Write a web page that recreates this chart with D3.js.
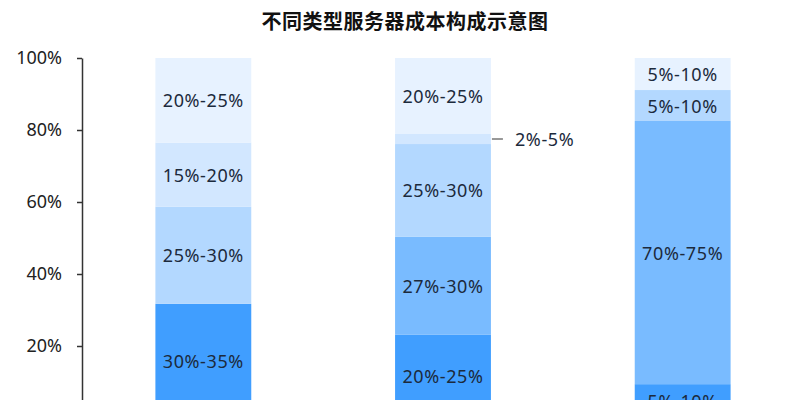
<!DOCTYPE html>
<html>
<head>
<meta charset="utf-8">
<script src="https://cdn.jsdelivr.net/npm/d3@7"></script>
<style>
  html, body { margin: 0; padding: 0; background: #fff; overflow: hidden; }
</style>
</head>
<body>
<div id="chart"></div>
<script>
// three server types (percent of cost, bottom to top)
const bars = ['type1', 'type2', 'type3'];
const layerKeys = ['s1', 's2', 's3', 's4', 's5'];
const s1 = [31.7, 23.1, 9.4];
const s2 = [0, 27.3, 73.1];
const s3 = [27.0, 25.7, 8.6];
const s4 = [17.8, 2.8, 0];
const s5 = [23.5, 21.1, 8.9];

const s1Labels = ['30%-35%', '20%-25%', '5%-10%'];
const s2Labels = [null, '27%-30%', '70%-75%'];
const s3Labels = ['25%-30%', '25%-30%', '5%-10%'];
const s4Labels = ['15%-20%', '2%-5%', null];
const s5Labels = ['20%-25%', '20%-25%', '5%-10%'];

const yTicks = [0, 20, 40, 60, 80, 100];
const title = '不同类型服务器成本构成示意图';

const colors = ['#409eff', '#79bbff', '#b3d8ff', '#d2e7ff', '#e7f2ff'];
const labelSets = [s1Labels, s2Labels, s3Labels, s4Labels, s5Labels];
const series = [s1, s2, s3, s4, s5];

const width = 809, height = 460;
const margin = { top: 58, right: 8, bottom: 42, left: 82 };
const plotH = height - margin.top - margin.bottom;

const rows = bars.map((b, i) => {
    const r = { bar: b };
    layerKeys.forEach((k, j) => { r[k] = series[j][i]; });
    return r;
});
const stacked = d3.stack().keys(layerKeys)(rows);

const svg = d3.select('#chart')
    .append('svg')
    .attr('width', width)
    .attr('height', height)
    .style('display', 'block');

svg.append('text')
    .attr('x', 405)
    .attr('y', 20)
    .attr('text-anchor', 'middle')
    .attr('dominant-baseline', 'central')
    .style('font-family', '"Noto Sans CJK SC", sans-serif')
    .style('font-weight', 'bold')
    .style('font-size', '20px')
    .style('letter-spacing', '0.5px')
    .style('fill', '#111')
    .text(title);

const g = svg.append('g')
    .attr('transform', 'translate(' + margin.left + ',' + margin.top + ')');

const x = d3.scaleBand()
    .domain(bars)
    .range([1.5, width - margin.left - margin.right + 1.5])
    .paddingInner(0.6)
    .paddingOuter(0.3);

const y = d3.scaleLinear()
    .domain([0, 100])
    .range([plotH, 0]);

// bars
const layer = g.selectAll('.layer')
    .data(stacked)
    .join('g')
    .attr('class', 'layer')
    .attr('fill', (d, i) => colors[i]);

layer.selectAll('rect')
    .data(d => d.filter(p => p[1] - p[0] > 0))
    .join('rect')
    .attr('x', d => x(d.data.bar))
    .attr('width', x.bandwidth())
    .attr('y', d => y(d[1]))
    .attr('height', d => y(d[0]) - y(d[1]));

// y axis
const yAxis = g.append('g')
    .attr('class', 'y axis')
    .call(d3.axisLeft(y)
        .tickValues(yTicks)
        .tickSize(5)
        .tickSizeOuter(0)
        .tickPadding(15)
        .tickFormat(d => d + '%'));

yAxis.select('.domain').attr('stroke', '#333').attr('stroke-width', 1.5);
yAxis.selectAll('.tick line').attr('stroke', '#333').attr('stroke-width', 1.5);
yAxis.selectAll('.tick text')
    .style('font-family', '"Noto Sans", sans-serif')
    .style('font-size', '18px')
    .style('fill', '#222');

// segment labels
const labelItems = [];
stacked.forEach((s, i) => {
    s.forEach((p, j) => {
        const txt = labelSets[i][j];
        if (!txt) return;
        labelItems.push({ bar: p.data.bar, y0: p[0], y1: p[1], text: txt });
    });
});

const lbl = g.selectAll('.seg-label')
    .data(labelItems)
    .join('g')
    .attr('class', 'seg-label');

lbl.each(function (d) {
    const sel = d3.select(this);
    const cy = (y(d.y0) + y(d.y1)) / 2;
    const small = y(d.y0) - y(d.y1) < 16;
    if (small) {
        // too thin: put it beside the bar with a short leader
        const bx = x(d.bar) + x.bandwidth();
        sel.append('line')
            .attr('x1', bx + 1).attr('x2', bx + 12)
            .attr('y1', cy).attr('y2', cy)
            .attr('stroke', '#333').attr('stroke-width', 1);
        sel.append('text')
            .attr('x', bx + 24)
            .attr('y', cy)
            .attr('dominant-baseline', 'central')
            .text(d.text);
    } else {
        sel.append('text')
            .attr('x', x(d.bar) + x.bandwidth() / 2)
            .attr('y', cy)
            .attr('text-anchor', 'middle')
            .attr('dominant-baseline', 'central')
            .text(d.text);
    }
});

lbl.selectAll('text')
    .style('font-family', '"Noto Sans", sans-serif')
    .style('font-size', '18px')
    .style('letter-spacing', '0.6px')
    .style('fill', '#1c2a3c');
</script>
</body>
</html>
